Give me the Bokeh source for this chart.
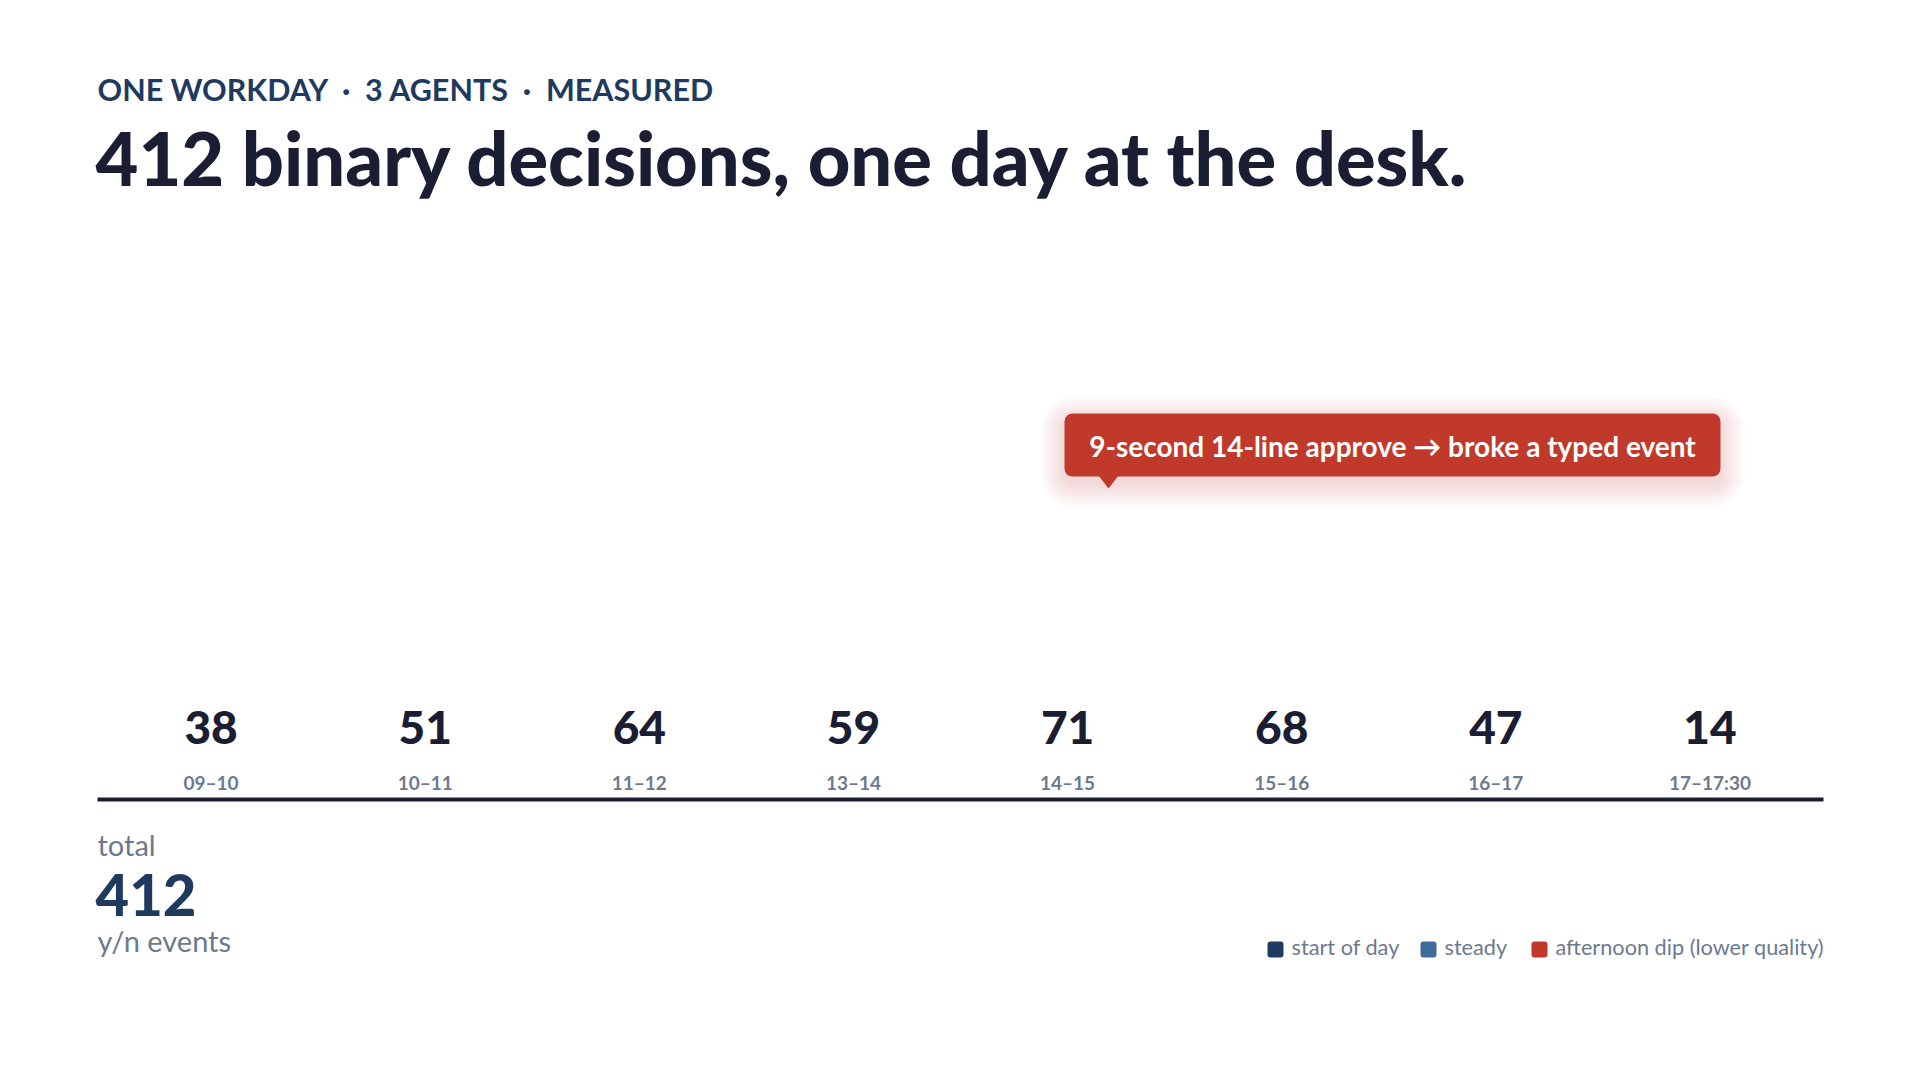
from bokeh.plotting import figure
from bokeh.models import (Range1d, FactorRange, ColumnDataSource, Label,
                          BoxAnnotation, PolyAnnotation)
from bokeh.embed import file_html
from bokeh.resources import INLINE
from bokeh.core.properties import value

# ---- data -------------------------------------------------------------
hours = ["09–10", "10–11", "11–12", "13–14", "14–15", "15–16", "16–17", "17–17:30"]
counts = [38, 51, 64, 59, 71, 68, 47, 14]
total = sum(counts)

eyebrow = "ONE WORKDAY \u00a0·\u00a0 3 AGENTS \u00a0·\u00a0 MEASURED"
headline = f"{total} binary decisions, one day at the desk."
callout_text = "9-second 14-line approve → broke a typed event"

legend_labels = ["start of day", "steady", "afternoon dip (lower quality)"]
legend_colors = ["#1e3a5f", "#3d6b9a", "#c0392b"]

# ---- style ------------------------------------------------------------
FONT = "Lato"
HEAVY = "Lato Heavy, Lato"
BLACK = "Lato Black, Lato Heavy, Lato"
INK = "#1b1d33"
NAVY = "#1e3a5f"
MUTED = "#6b7a8f"
RED = "#c0392b"
BASE_SHIFT = 0.4   # alphabetic baseline correction, in em

W, H = 1920, 1080

p = figure(
    width=W, height=H,
    x_range=FactorRange(*hours, range_padding=0.4834, range_padding_units="absolute"),
    y_range=Range1d(H, 0),
    x_axis_location=None, y_axis_location=None,
    output_backend="svg", toolbar_location=None,
    min_border=0, min_border_left=0, min_border_right=0,
    min_border_top=0, min_border_bottom=0,
    outline_line_color=None,
    background_fill_color="white", border_fill_color="white",
)
p.grid.visible = False
p.title.visible = False


def label(x, y, text, size, color, style="normal", align="left",
          baseline="alphabetic", font=FONT):
    if baseline == "alphabetic":
        y = y - BASE_SHIFT * size
    p.add_layout(Label(x=x, y=y, x_units="screen", y_units="data", text=text,
                       text_font=font, text_font_size=f"{size}px", text_font_style=style,
                       text_color=color, text_align=align, text_baseline=baseline))


def box(l, r, t, b, color, alpha=1.0, radius=0):
    p.add_layout(BoxAnnotation(left=l, right=r, top=t, bottom=b,
                               left_units="screen", right_units="screen",
                               top_units="data", bottom_units="data",
                               fill_color=color, fill_alpha=alpha, line_color=None,
                               border_radius=radius, level="annotation"))


# header
label(97, 101, eyebrow, 30.5, NAVY, "bold")
label(95, 187, headline, 74, INK, "bold", font=BLACK)

# per-hour counts and hour labels
src = ColumnDataSource(dict(hour=hours, count=[str(c) for c in counts]))
p.text(x="hour", y=745 - BASE_SHIFT * 46, text="count", source=src,
       text_font=value(HEAVY), text_font_size="46px", text_font_style="bold",
       text_color=INK, text_align="center", text_baseline="alphabetic")
p.text(x="hour", y=790 - BASE_SHIFT * 19, text="hour", source=src,
       text_font=value(FONT), text_font_size="19px", text_font_style="bold",
       text_color=MUTED, text_align="center", text_baseline="alphabetic")

# baseline rule
box(97, 1823, 797, 801, INK)

# total block
label(97, 856, "total", 29, MUTED)
label(95, 918, str(total), 58, NAVY, "bold", font=HEAVY)
label(97, 952, "y/n events", 29, MUTED)

# legend
lx = [1267, 1420, 1531]
for x, lab, col in zip(lx, legend_labels, legend_colors):
    box(x, x + 16, 941, 957, col, radius=3)
    label(x + 24, 946, lab, 21.7, MUTED, baseline="middle")

# callout with soft shadow
bl, br, bt, bb = 1064, 1720, 413, 476
for k in range(12, 0, -1):
    g = k * 2
    box(bl - g, br + g, bt - g + 7, bb + g + 7, RED, alpha=0.014, radius=8 + g)
box(bl, br, bt, bb, RED, radius=8)
p.add_layout(PolyAnnotation(xs=[1098, 1118, 1108], ys=[475, 475, 488],
                            xs_units="screen", ys_units="data",
                            fill_color=RED, fill_alpha=1.0, line_color=None))
label((bl + br) / 2, (bt + bb) / 2 + 1, callout_text, 28, "white", "bold",
      align="center", baseline="middle")

open("out.html", "w").write(file_html(p, INLINE))
